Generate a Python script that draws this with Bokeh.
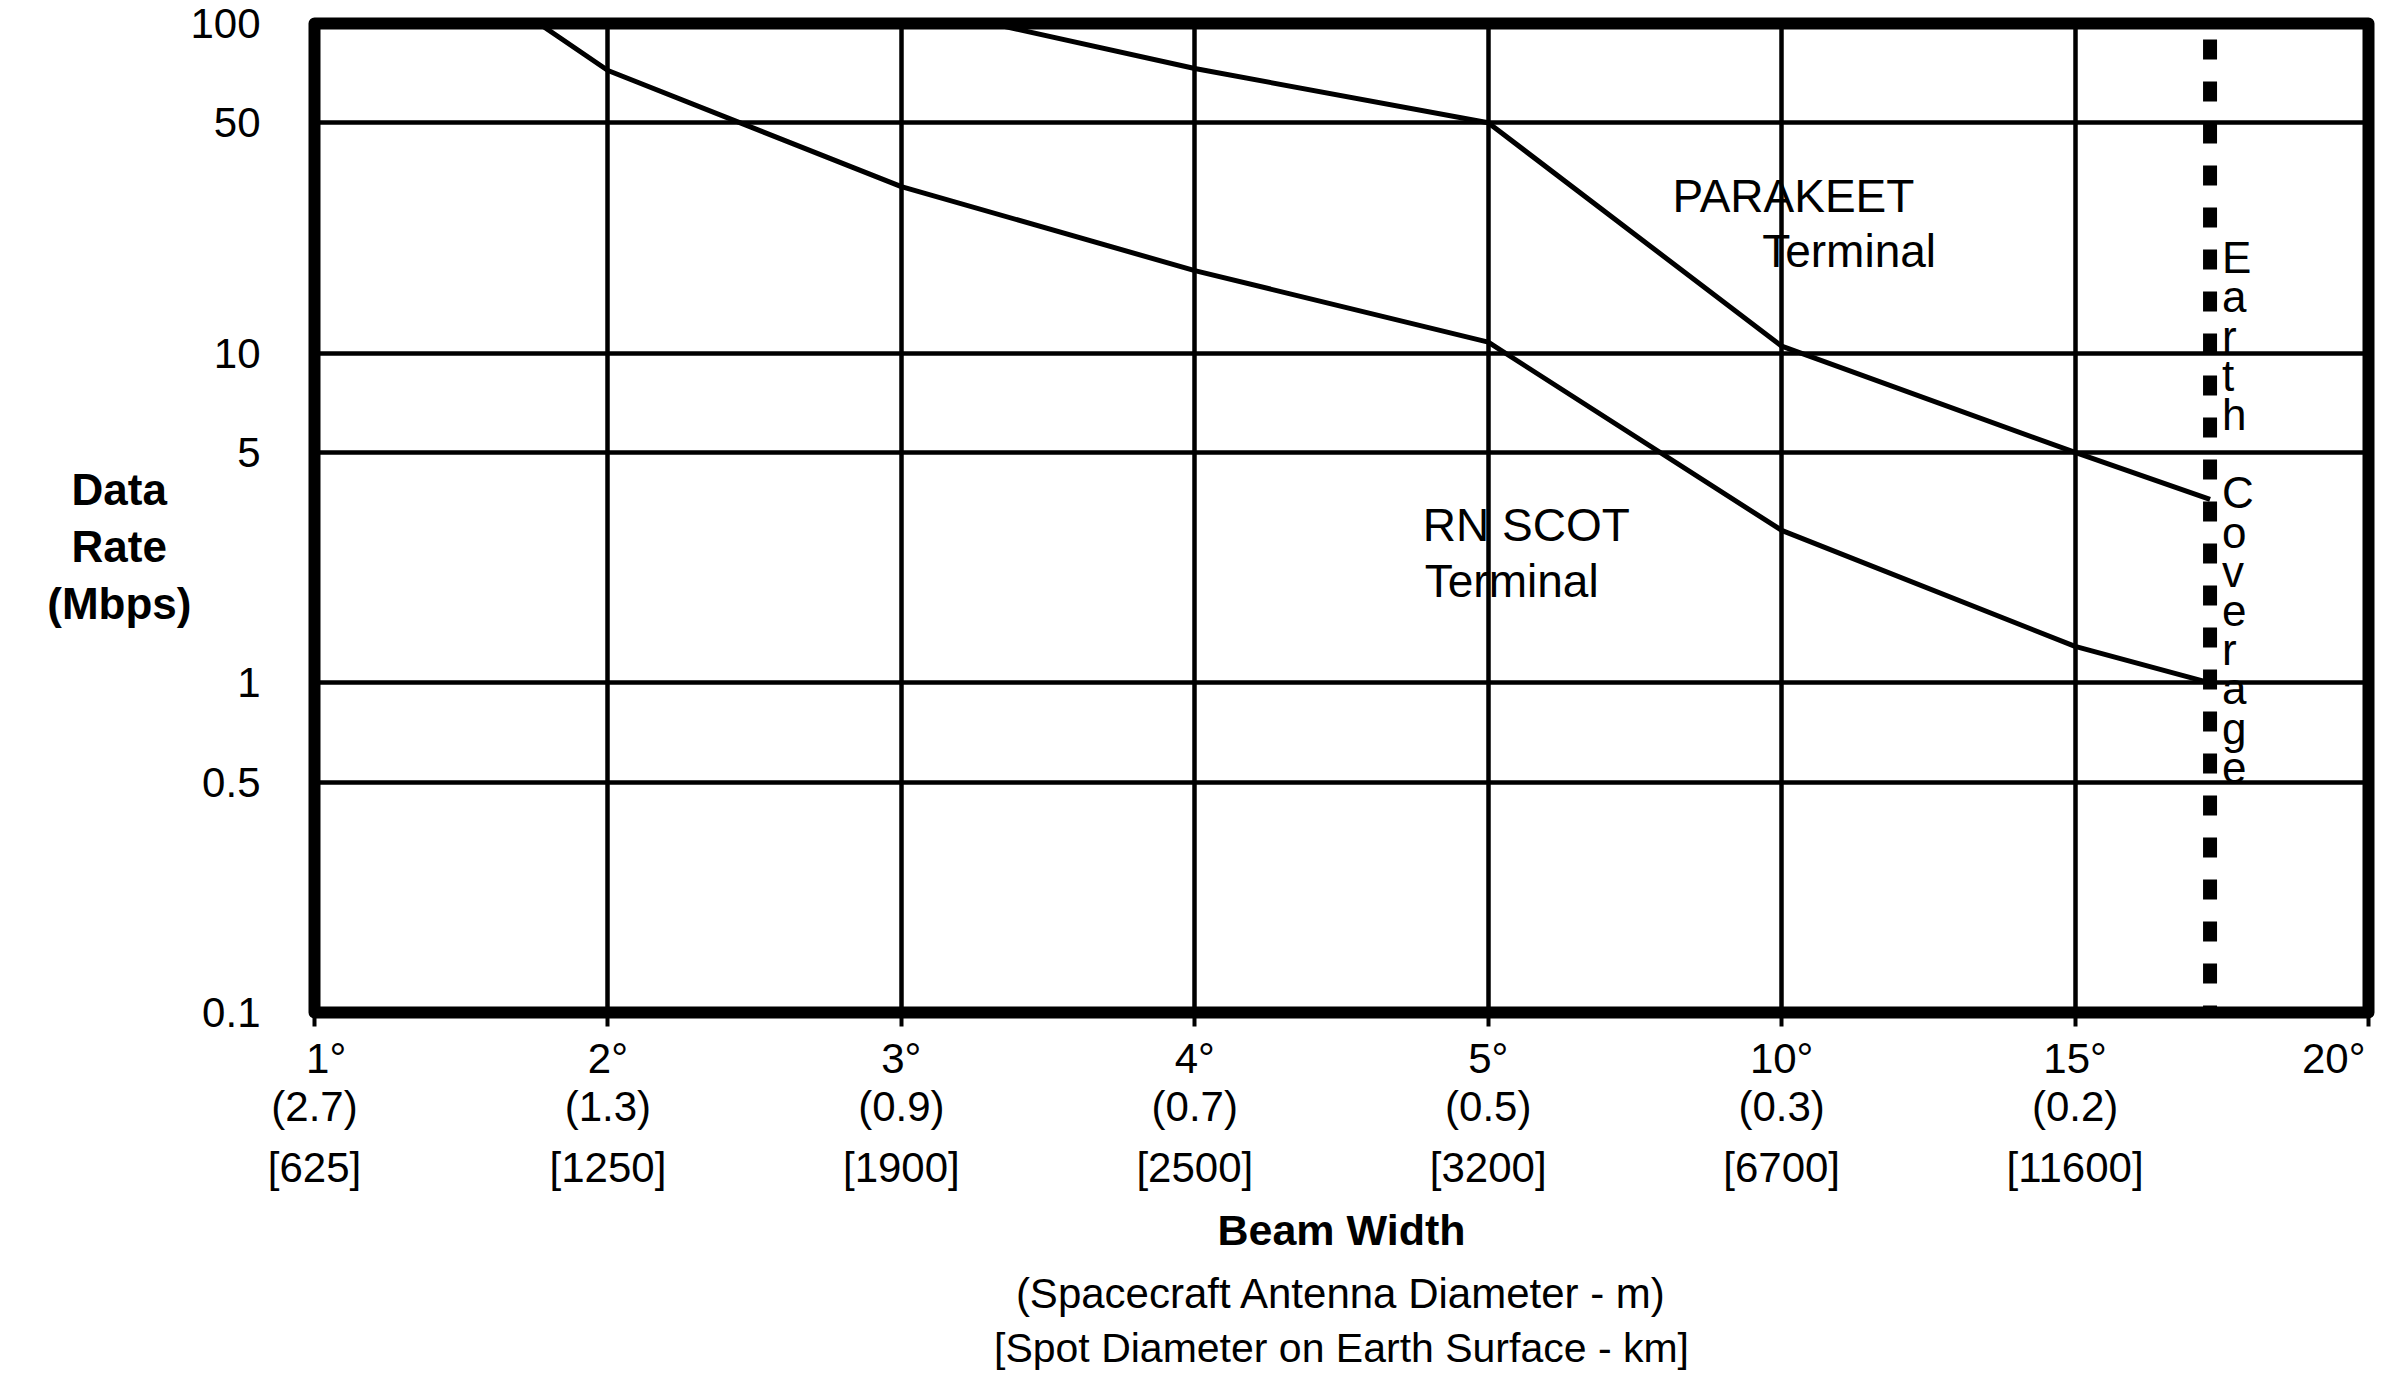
from bokeh.plotting import figure
from bokeh.models import FixedTicker, LinearAxis, Label, Title, Range1d
from bokeh.embed import file_html
from bokeh.resources import INLINE

# ---------------- data ----------------
beam_width_labels = ["1°", "2°", "3°", "4°", "5°", "10°", "15°", "20°"]
antenna_diameter_labels = ["(2.7)", "(1.3)", "(0.9)", "(0.7)", "(0.5)", "(0.3)", "(0.2)"]
spot_diameter_labels = ["[625]", "[1250]", "[1900]", "[2500]", "[3200]", "[6700]", "[11600]"]

y_tick_values = [0.1, 0.5, 1, 5, 10, 50, 100]
y_tick_labels = ["0.1", "0.5", "1", "5", "10", "50", "100"]

# beam-width axis position (1°=0, 2°=1, ... 15°=6, 20°=7)
earth_coverage_x = 6.46

parakeet_x = [2.22, 3, 4, 5, 6, earth_coverage_x]
parakeet_y = [104, 73, 50, 10.5, 5.0, 3.6]

rnscot_x = [0.73, 1, 2, 3, 4, 5, 6, earth_coverage_x]
rnscot_y = [105, 72, 32, 17.8, 10.8, 2.9, 1.29, 1.0]

# ---------------- figure ----------------
FONT = "Liberation Sans"
Y_MIN, Y_MAX = 0.1, 100
NB = "\u00a0"

p = figure(width=2400, height=1373, y_axis_type="log",
           x_range=Range1d(0, 7), y_range=Range1d(Y_MIN, Y_MAX),
           output_backend="svg", toolbar_location=None,
           min_border_left=314, min_border_right=32,
           min_border_top=23, min_border_bottom=361,
           background_fill_color="white", border_fill_color="white")

p.outline_line_color = "black"
p.outline_line_width = 12
p.outline_line_join = "round"
p.outline_line_alpha = 1

# grid
p.xgrid.ticker = FixedTicker(ticks=list(range(1, 7)))
p.ygrid.ticker = FixedTicker(ticks=[0.5, 1, 5, 10, 50])
p.xgrid.grid_line_color = "black"
p.ygrid.grid_line_color = "black"
p.xgrid.grid_line_width = 4.5
p.ygrid.grid_line_width = 4.5
p.xgrid.grid_line_alpha = 1
p.ygrid.grid_line_alpha = 1

# y axis
ya = p.yaxis[0]
ya.ticker = FixedTicker(ticks=y_tick_values, minor_ticks=[])
ya.major_label_overrides = dict(zip(y_tick_values, y_tick_labels))
ya.axis_line_color = None
ya.major_tick_line_color = None
ya.minor_tick_line_color = None
ya.major_tick_out = 0
ya.major_tick_in = 0
ya.minor_tick_out = 0
ya.major_label_standoff = 54
ya.major_label_text_font = FONT
ya.major_label_text_font_size = "42px"
ya.major_label_text_color = "black"
# lines padded with no-break spaces so the right-aligned block reads centred
ya.axis_label = NB + "\nData" + NB * 2 + "\nRate" + NB * 2 + "\n(Mbps)"
ya.axis_label_orientation = "horizontal"
ya.axis_label_standoff = -4
ya.axis_label_text_font = FONT
ya.axis_label_text_font_size = "44px"
ya.axis_label_text_font_style = "bold"
ya.axis_label_text_color = "black"
ya.axis_label_text_line_height = 1.16

# x axis rows
def style_x(ax, standoff):
    ax.axis_line_color = None
    ax.minor_tick_line_color = None
    ax.minor_tick_out = 0
    ax.minor_tick_in = 0
    ax.major_label_standoff = standoff
    ax.major_label_text_font = FONT
    ax.major_label_text_font_size = "42px"
    ax.major_label_text_color = "black"

# end labels nudged inward like the original
row1 = list(beam_width_labels)
row1[0] = NB * 2 + row1[0]
row1[-1] = row1[-1] + NB * 3

xa = p.xaxis[0]
xa.ticker = FixedTicker(ticks=list(range(len(beam_width_labels))), minor_ticks=[])
xa.major_label_overrides = {i: s for i, s in enumerate(row1)}
style_x(xa, 8)
xa.major_tick_in = 0
xa.major_tick_out = 14
xa.major_tick_line_width = 4
xa.major_tick_line_color = "black"

ax2 = LinearAxis(ticker=FixedTicker(ticks=list(range(len(antenna_diameter_labels))), minor_ticks=[]))
ax2.major_label_overrides = {i: s for i, s in enumerate(antenna_diameter_labels)}
style_x(ax2, -2)
ax2.major_tick_line_color = None
ax2.major_tick_in = 0
ax2.major_tick_out = 0
p.add_layout(ax2, "below")

ax3 = LinearAxis(ticker=FixedTicker(ticks=list(range(len(spot_diameter_labels))), minor_ticks=[]))
ax3.major_label_overrides = {i: s for i, s in enumerate(spot_diameter_labels)}
style_x(ax3, 11)
ax3.major_tick_line_color = None
ax3.major_tick_in = 0
ax3.major_tick_out = 0
p.add_layout(ax3, "below")

for txt, style, size, so in [("Beam Width", "bold", "43px", 20),
                             ("(Spacecraft Antenna Diameter - m)", "normal", "42px", 9),
                             ("[Spot Diameter on Earth Surface - km]", "normal", "41px", 3)]:
    p.add_layout(Title(text=txt, align="center", text_font=FONT,
                       text_font_size=size, text_font_style=style,
                       text_color="black", standoff=so), "below")

# data lines
p.line(parakeet_x, parakeet_y, line_color="black", line_width=5, line_join="round")
p.line(rnscot_x, rnscot_y, line_color="black", line_width=5, line_join="round")
p.line([earth_coverage_x, earth_coverage_x], [Y_MAX, Y_MIN], line_color="black",
       line_width=14, line_dash="20 22", line_dash_offset=26)

# annotations
def lab(x, y, text, align="center", baseline="alphabetic", size="46px", style="normal", **kw):
    p.add_layout(Label(x=x, y=y, text=text, text_align=align, text_baseline=baseline,
                       text_font=FONT, text_font_size=size, text_font_style=style,
                       text_color="black", **kw))

lab(5.04, 30.0, "PARAKEET")
lab(5.23, 20.4, "Terminal")
lab(4.13, 3.02, "RN SCOT")
lab(4.08, 2.04, "Terminal")
lab(earth_coverage_x, 23.1, "\n".join("Earth Coverage"), align="left", baseline="top",
    size="44px", x_offset=12, text_line_height=0.8)

open("out.html", "w").write(file_html(p, INLINE))
